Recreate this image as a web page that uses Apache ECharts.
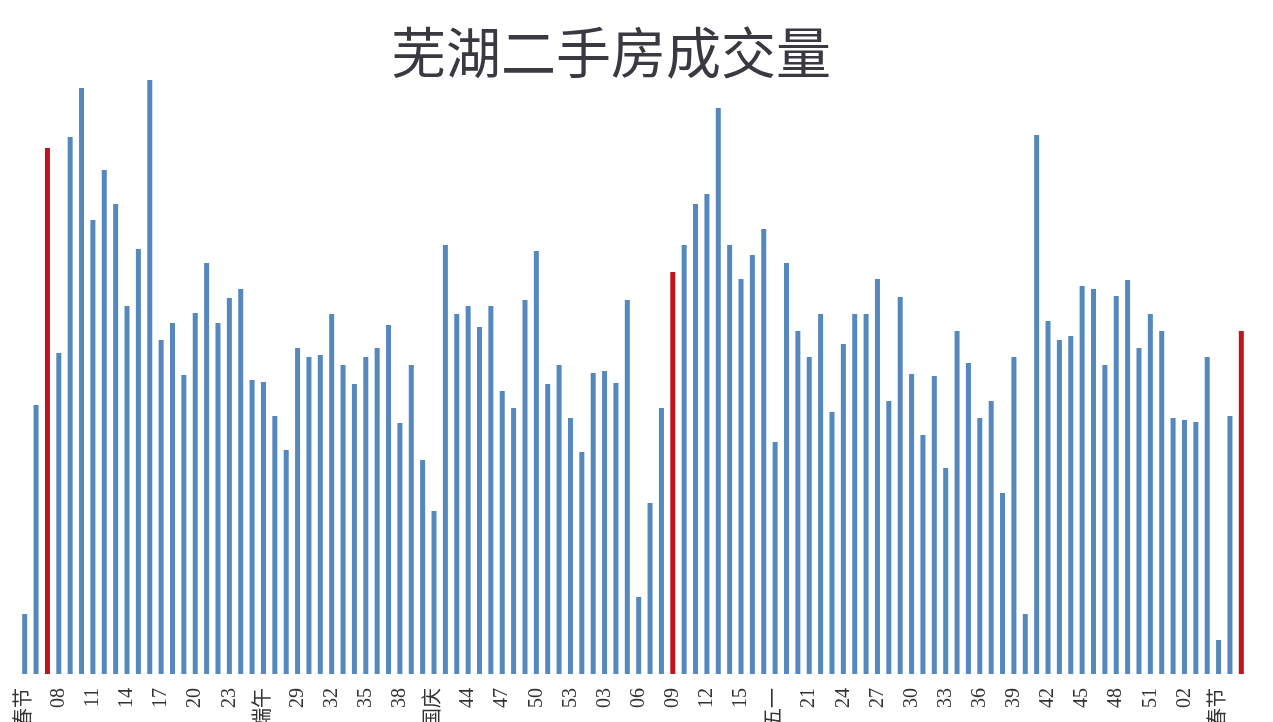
<!DOCTYPE html>
<html>
<head>
<meta charset="utf-8">
<script src="https://cdn.jsdelivr.net/npm/echarts@6/dist/echarts.min.js"></script>
<style>
html,body{margin:0;padding:0;background:#ffffff;overflow:hidden;}
#main{width:1273px;height:722px;}
</style>
</head>
<body>
<div id="main"></div>
<script>
// Categories (weeks)
var weeks = [
  '春节','06','07','08','09','10','11','12','13','14','15','16','17','18','19','20','21','22','23','24','25','端午',
  '27','28','29','30','31','32','33','34','35','36','37','38','39','40','国庆','42','43','44','45','46','47','48','49','50','51','52','53',
  '01','02','03','04','05','06','07','08','09','10','11','12','13','14','15','16','17','五一','19','20','21','22','23','24','25','26',
  '27','28','29','30','31','32','33','34','35','36','37','38','39','40','41','42','43','44','45','46','47','48','49','50','51','52',
  '01','02','03','04','春节','06','07'
];
// Transaction volume (relative units)
var volume = [
  60,269,526,321,537,586,454,504,470,368,425,594,334,351,299,361,411,351,376,385,294,292,
  258,224,326,317,319,360,309,290,317,326,349,251,309,214,163,429,360,368,347,368,283,266,374,423,290,309,256,
  222,301,303,291,374,77,171,266,402,429,470,480,566,429,395,419,445,232,411,343,317,360,262,330,360,360,
  395,273,377,300,239,298,206,343,311,256,273,181,317,60,539,353,334,338,388,385,309,378,394,326,360,343,
  256,254,252,317,34,258,343
];
// Highlighted (red) bar positions
var highlightIdx = [2, 57, 107];

var blue = '#5588bd';
var red = '#c0141c';

var seriesData = volume.map(function (v, i) {
  if (highlightIdx.indexOf(i) >= 0) {
    return { value: v, itemStyle: { color: red } };
  }
  return v;
});

var chart = echarts.init(document.getElementById('main'));
chart.setOption({
  backgroundColor: '#ffffff',
  animation: false,
  title: {
    text: '芜湖二手房成交量',
    left: 606,
    textAlign: 'center',
    top: 20,
    textStyle: {
      fontFamily: '"Noto Sans CJK SC"',
      fontSize: 55,
      fontWeight: 'normal',
      color: '#3a3840'
    }
  },
  grid: { left: 19, right: 26, top: 34, bottom: 48, containLabel: false, outerBoundsMode: 'none' },
  xAxis: {
    type: 'category',
    data: weeks,
    boundaryGap: true,
    axisLine: { show: false },
    axisTick: { show: false },
    axisLabel: {
      interval: 2,
      rotate: 90,
      margin: 14,
      fontSize: 20,
      color: '#333333',
      fontFamily: '"Liberation Serif", "Noto Sans CJK SC"'
    }
  },
  yAxis: {
    type: 'value',
    min: 0,
    max: 640,
    show: false,
    splitLine: { show: false }
  },
  series: [{
    type: 'bar',
    data: seriesData,
    barWidth: 5,
    itemStyle: { color: blue }
  }]
});
</script>
</body>
</html>
